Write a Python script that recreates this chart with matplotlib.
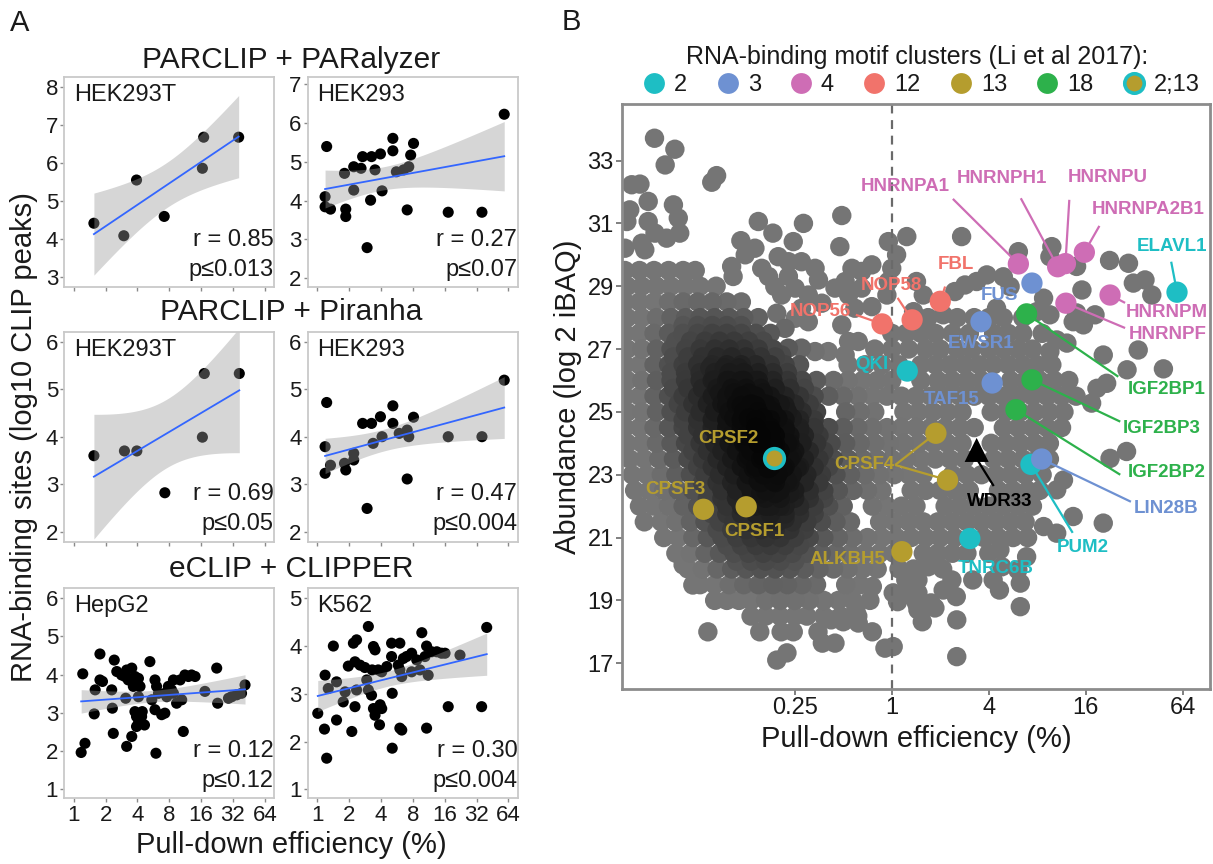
import numpy as np
import matplotlib
matplotlib.use("Agg")
import matplotlib.pyplot as plt
from matplotlib.lines import Line2D

plt.rcParams["font.family"] = ["Liberation Sans", "DejaVu Sans"]
TXT = "#1a1a1a"

# ---------------- Panel A data (x = log2 pull-down efficiency %, y = log10 CLIP peaks) ----
pa_hek293t_x = [0.63, 1.57, 1.97, 2.84, 4.04, 4.08, 5.18]
pa_hek293t_y = [4.41, 4.08, 5.55, 4.59, 5.86, 6.68, 6.68]
pa_hek293_x = [5.87, 0.29, 0.24, 0.24, 0.41, 0.89, 0.89, 0.85, 1.14, 1.14, 1.42, 1.70, 1.81, 1.98,
               1.67, 2.03, 2.37, 2.37, 2.48, 2.71, 2.87, 2.93, 3.02, 2.82, 1.56, 4.11, 5.17, 1.37]
pa_hek293_y = [6.22, 5.39, 4.10, 3.84, 3.78, 3.78, 3.59, 4.70, 4.27, 4.87, 5.13, 5.13, 4.79, 5.20,
               4.01, 4.25, 5.60, 5.28, 4.74, 4.79, 4.87, 5.17, 5.47, 3.76, 2.79, 3.70, 3.70, 4.83]
pp_hek293t_x = [0.63, 1.59, 1.98, 2.86, 4.04, 4.10, 5.20]
pp_hek293t_y = [3.60, 3.70, 3.70, 2.82, 3.99, 5.33, 5.33]
pp_hek293_x = [5.87, 0.29, 0.24, 0.24, 0.41, 0.85, 0.89, 1.14, 1.14, 1.42, 1.70, 1.98, 1.75, 2.03,
               2.37, 2.37, 2.57, 2.82, 2.87, 3.02, 2.82, 1.56, 4.11, 5.17]
pp_hek293_y = [5.19, 4.72, 3.79, 3.23, 3.40, 3.44, 3.30, 3.65, 3.51, 4.28, 4.28, 4.42, 3.86, 4.00,
               4.65, 4.28, 4.07, 4.14, 4.00, 4.41, 3.11, 2.49, 4.00, 4.00]
ec_hepg2_x = [0.28, 0.23, 0.35, 0.64, 0.67, 0.82, 0.90, 0.82, 1.19, 1.24, 1.27, 1.21, 1.35, 1.50,
              1.61, 1.66, 1.71, 1.82, 1.92, 1.87, 2.03, 2.08, 1.63, 1.66, 1.82, 1.92, 1.97, 2.03,
              1.97, 2.13, 2.15, 2.22, 2.39, 2.45, 2.55, 2.60, 2.55, 2.58, 2.66, 2.76, 2.86, 2.92,
              2.97, 3.07, 3.13, 3.23, 3.34, 3.44, 3.49, 3.60, 3.70, 3.81, 4.12, 4.49, 4.52, 4.86,
              4.96, 5.12, 5.27, 5.38, 3.39, 3.13, 2.86, 2.03]
ec_hepg2_y = [4.02, 1.96, 2.20, 2.97, 3.60, 3.86, 3.82, 4.54, 3.60, 2.46, 4.38, 3.12, 4.08, 3.99,
              3.95, 4.12, 3.86, 4.17, 3.95, 3.69, 3.90, 3.69, 3.38, 2.12, 2.38, 3.03, 2.90, 2.73,
              2.64, 2.90, 3.03, 2.68, 4.34, 3.34, 3.86, 3.69, 3.08, 1.94, 3.51, 2.95, 2.99, 3.42,
              3.69, 3.60, 3.86, 3.25, 3.86, 2.51, 3.99, 3.95, 3.99, 3.95, 3.56, 4.17, 3.25, 3.38,
              3.42, 3.47, 3.51, 3.73, 3.34, 3.51, 3.51, 3.42]
ec_k562_x = [5.32, 1.60, 0.50, 0.24, 0.01, 0.22, 0.29, 0.60, 0.34, 0.60, 0.87, 0.81, 1.08, 1.18,
             0.97, 1.18, 1.13, 1.23, 1.34, 1.49, 1.55, 1.60, 1.70, 1.76, 1.81, 1.72, 1.91, 2.02,
             1.76, 1.81, 1.97, 2.02, 1.95, 2.33, 2.59, 2.33, 2.35, 2.35, 2.59, 2.65, 2.54, 2.70,
             2.80, 2.96, 3.12, 3.28, 3.43, 3.43, 3.38, 3.59, 3.75, 3.90, 4.01, 4.11, 4.48, 5.16,
             2.59, 2.96, 3.22, 3.48, 1.23, 2.18, 2.65]
ec_k562_y = [4.39, 4.41, 4.00, 3.39, 2.59, 2.26, 1.65, 2.45, 3.11, 3.25, 3.04, 2.83, 2.21, 2.73,
             3.58, 3.67, 4.06, 4.13, 3.60, 3.55, 3.29, 3.08, 2.97, 3.99, 3.92, 3.50, 3.50, 3.46,
             2.69, 2.55, 2.77, 2.69, 2.35, 4.06, 4.06, 3.78, 3.01, 1.86, 2.28, 2.24, 3.60, 3.74,
             3.78, 3.85, 3.71, 4.28, 4.00, 2.28, 3.78, 3.88, 3.88, 3.85, 3.85, 2.73, 3.81, 2.73,
             3.50, 3.46, 3.50, 3.39, 3.08, 3.57, 3.36]

# ---------------- Panel B data (x = log2 pull-down efficiency %, y = log2 iBAQ) ---------
cloud_row_y = [29.5, 29.0, 28.5, 28.0, 27.5, 27.0, 26.5, 26.0, 25.5, 25.0, 24.5, 24.0, 23.5,
               23.0, 22.5, 22.0, 21.5, 21.0, 20.5, 20.0, 19.5, 19.0, 18.5]
cloud_row_x = [
    [-5.5, -5.2, -4.9, -4.6, -4.3, -4.05],
    [-5.45, -5.15, -4.85, -4.55, -4.25, -3.95, -3.62],
    [-5.5, -5.2, -4.9, -4.6, -4.3, -4.0, -3.7, -3.4, -3.1],
    [-5.45, -5.15, -4.85, -4.55, -4.25, -3.95, -3.65, -3.35, -3.05, -2.75, 0.75, 1.35, 1.7, 2.0, 2.3, 2.7],
    [-5.5, -5.2, -4.9, -4.6, -4.3, -4.0, -3.7, -3.4, -3.1, -2.8, -2.5, 0.0, 0.3, 0.6, 0.9, 1.25, 1.6,
     2.1, 2.4, 2.7, 3.1],
    [-5.45, -5.15, -4.85, -4.55, -4.25, -3.95, -3.65, -3.35, -3.05, -2.75, -2.45, -0.35, 0.0, 0.35,
     0.7, 1.0, 1.35, 1.65, 2.0, 2.3, 2.6, 2.9],
    [-5.5, -5.2, -4.9, -4.6, -4.3, -4.0, -3.7, -3.4, -3.1, -2.8, -2.5, -2.2, -1.9, -0.9, -0.55, -0.2,
     0.15, 0.6, 0.9, 1.2, 1.5, 1.8, 2.1, 2.4, 2.7, 3.0, 3.3],
    [-5.45, -5.15, -4.85, -4.55, -4.25, -3.95, -3.65, -3.35, -3.05, -2.75, -2.45, -2.15, -1.85, -1.55,
     -1.2, -0.9, -0.6, -0.3, 0.0, 0.6, 0.95, 1.25, 1.55, 1.85, 2.45, 2.75, 3.05, 3.35, 3.65],
    [-5.5, -5.2, -4.9, -4.6, -4.3, -4.0, -3.7, -3.4, -3.1, -2.8, -2.5, -2.2, -1.9, -1.6, -1.3, -1.0,
     -0.7, -0.4, -0.1, 0.2, 0.5, 0.8, 1.1, 1.4, 1.7, 2.0, 2.3, 2.6, 2.9, 3.2, 3.5, 3.8],
    [-5.45, -5.15, -4.85, -4.55, -4.25, -3.95, -3.65, -3.35, -3.05, -2.75, -2.45, -2.15, -1.85, -1.55,
     -0.95, -0.65, -0.35, 0.25, 0.55, 0.85, 1.15, 1.45, 2.05, 2.35, 2.65, 2.95, 3.25, 3.55],
    [-5.5, -5.2, -4.9, -4.6, -4.3, -4.0, -3.7, -3.4, -3.1, -2.8, -2.5, -2.2, -1.9, -1.6, -1.3, -1.0,
     -0.7, -0.4, -0.1, 0.2, 0.5, 0.8, 1.1, 1.4, 1.7, 2.3, 2.6, 2.9, 3.2, 3.5],
    [-5.45, -5.15, -4.85, -4.55, -4.25, -3.95, -3.65, -3.35, -3.05, -2.75, -2.45, -2.15, -1.85, -1.55,
     -1.25, -0.95, -0.65, -0.35, -0.05, 0.25, 0.55, 0.85, 1.15, 1.45, 2.05, 2.35, 2.65, 2.95, 3.25],
    [-5.4, -5.1, -4.8, -4.5, -4.2, -3.9, -3.6, -3.3, -3.0, -2.7, -2.4, -2.1, -1.8, -1.5, -1.2, -0.9,
     -0.6, -0.3, 0.0, 0.3, 0.6, 0.9, 1.2, 1.5, 2.1, 2.4, 2.7, 3.0, 3.25],
    [-5.35, -5.05, -4.75, -4.45, -4.15, -3.85, -3.55, -3.25, -2.95, -2.65, -2.35, -2.05, -1.75, -1.45,
     -1.15, -0.85, -0.55, -0.25, 0.05, 0.35, 0.65, 1.25, 1.55, 1.85, 2.15, 2.45, 2.75, 3.1],
    [-5.3, -5.0, -4.7, -4.4, -4.1, -3.8, -3.5, -3.2, -2.9, -2.6, -2.3, -2.0, -1.7, -1.4, -1.1, -0.8,
     -0.5, -0.2, 0.4, 0.7, 1.0, 1.3, 1.6, 2.2, 2.5, 2.8, 3.05],
    [-5.2, -4.9, -4.6, -4.3, -4.0, -3.7, -3.4, -3.1, -2.8, -2.5, -2.2, -1.9, -1.6, -1.3, -1.0, -0.4,
     -0.1, 0.2, 0.5, 1.1, 1.4, 1.7, 2.0, 2.3, 2.6, 2.9],
    [-5.1, -4.75, -4.45, -4.15, -3.85, -3.55, -3.25, -2.95, -2.65, -2.35, -2.05, -1.75, -1.45, -1.15,
     -0.85, -0.25, 0.05, 0.35, 0.65, 0.95, 1.25, 1.55, 1.85, 2.15, 2.45, 2.75],
    [-4.7, -4.4, -4.1, -3.8, -3.5, -3.2, -2.9, -2.6, -2.3, -2.0, -1.7, -1.4, -1.1, -0.8, -0.5, -0.2,
     0.1, 0.4, 0.7, 1.0, 1.3, 1.9, 2.2, 2.5, 2.8],
    [-4.45, -4.15, -3.85, -3.55, -3.25, -2.95, -2.65, -2.35, -2.05, -1.75, -1.45, -1.15, -0.85, -0.55,
     -0.25, 0.05, 0.65, 0.95, 1.25, 1.55, 2.0],
    [-4.2, -3.9, -3.6, -3.3, -3.0, -2.7, -2.4, -2.1, -1.8, -1.5, -1.2, -0.9, -0.6, -0.3, 0.15, 1.05],
    [-3.95, -3.65, -3.35, -3.05, -2.75, -2.45, -2.15, -1.85, -1.55, -0.95, -0.65],
    [-3.65, -3.4, -3.15, -2.9, -2.6, -2.3, -2.0, -1.7, -1.4, -1.1, -0.8, -0.45],
    [-2.9, -2.6, -2.3, -2.0, -1.75, -1.4, -1.05, -0.7],
]
cloud_sparse_x = [
    -4.89, -4.47, -4.67, -3.71, -3.61, -5.36, -5.19, -5.02, -5.40, -5.46, -5.02, -4.50, -4.40, -4.37,
    -4.64, -4.88, -5.15, -5.09, -5.50, -2.75, -2.45, -1.82, -1.03, -1.07, -3.11, -2.82, -3.02, -2.03,
    -0.07, 0.31, 0.10, 1.44,
    -3.30, -2.68, -2.34, -2.13, -1.86, -1.58, -0.82, -0.62, -0.41, 0.00, -3.27, -2.54, -2.13, -1.51,
    -0.96, -0.07, -2.41, -1.99, -1.17, -0.89, -0.62, -2.27, -1.72, -1.44, -1.86, -0.76, -0.41, -0.10,
    -1.99, -1.72, -2.37, -2.20, -1.03, -0.89, -0.69, -0.96, -1.31, -1.58, -1.86, -2.13, -2.27,
    2.61, 3.30, 3.26, 3.81, 4.49, 4.88, 4.98, 5.22, 5.36, 3.92, 4.19, 3.95, 3.74, 3.81, 3.40, 3.61,
    4.36, 5.08, 5.60, 4.85, 4.43, 4.23, 3.26, 4.12, 4.50, 4.84, 3.54, 3.40, 3.74, 4.36, 3.13, 3.40,
    2.78, 2.23, 2.65, 2.60, 2.65, 1.34, 1.34, 0.72, 0.51, 1.06, 1.24, 1.67, 2.22, 2.27, 0.45, 0.75,
    0.54, 0.29, 0.03, 0.29, 0.54, 0.12, 0.54, 0.63, 0.81, 0.89, 1.33, 2.09,
    0.51, 0.65, 1.30, 1.51, 1.75, 1.96, 2.30, 2.44, 0.45, 1.06, 2.16, 2.99, 3.26, 3.13,
    -4.30, -4.00, -4.10, -3.79, -2.72, -2.28, -2.37, -2.16, -2.03, -1.52, -1.43, -1.17, -1.25, -1.00,
    -0.69, -0.74, -0.40, -0.40, -0.14, 0.03]
cloud_sparse_y = [
    33.71, 33.36, 32.86, 32.31, 32.52, 32.23, 32.25, 31.70, 31.43, 31.06, 31.06, 31.59, 31.17, 30.69,
    30.53, 30.69, 30.37, 30.16, 30.21, 31.06, 30.69, 31.00, 31.25, 30.26, 30.45, 30.21, 30.00, 30.42,
    30.42, 30.58, 30.00, 30.58,
    29.63, 29.57, 29.94, 29.78, 29.78, 29.57, 29.57, 29.47, 29.68, 29.57, 29.31, 29.31, 29.31, 29.20,
    29.15, 29.15, 28.99, 28.94, 28.94, 28.72, 28.94, 28.72, 28.72, 28.46, 28.30, 28.30, 28.35, 28.72,
    27.98, 27.87, 28.14, 27.66, 27.77, 27.24, 27.24, 26.81, 26.92, 26.92, 27.03, 27.03, 26.81,
    30.10, 30.26, 29.94, 29.63, 29.82, 29.73, 29.10, 29.20, 28.72, 28.88, 28.09, 27.77, 27.87, 28.15,
    27.29, 27.19, 26.81, 26.97, 26.37, 26.34, 25.91, 25.75, 26.92, 25.28, 23.52, 23.74, 22.83, 22.52,
    21.67, 21.46, 21.35, 21.14, 20.39, 20.61, 19.55, 19.97, 18.80, 18.38, 17.21, 18.80, 18.91, 19.33,
    19.65, 19.65, 19.33, 20.07, 20.00, 20.07, 19.65, 19.65, 19.24, 19.24, 19.24, 18.96, 18.70, 18.32,
    18.92, 18.76, 19.12, 19.65,
    29.15, 28.72, 28.83, 29.04, 29.15, 29.36, 29.30, 28.99, 28.19, 28.09, 28.30, 28.19, 28.09, 28.62,
    20.13, 19.80, 19.49, 18.00, 18.00, 18.00, 17.10, 17.33, 18.00, 18.00, 17.64, 17.64, 18.38, 18.32,
    18.28, 18.70, 18.00, 19.44, 17.48, 17.53]
core_row_y = [27.75, 27.25, 26.75, 26.25, 25.75, 25.25, 24.75, 24.25, 23.75, 23.25, 22.75, 22.25,
              21.75, 21.25, 20.75, 20.25]
core_row_x = [
    [-4.3, -4.0, -3.7, -3.4, -3.1],
    [-4.45, -4.15, -3.85, -3.55, -3.25, -2.95, -2.65],
    [-4.5, -4.2, -3.9, -3.6, -3.3, -3.0, -2.7, -2.4],
    [-4.55, -4.25, -3.95, -3.65, -3.35, -3.05, -2.75, -2.45, -2.15],
    [-4.5, -4.2, -3.9, -3.6, -3.3, -3.0, -2.7, -2.4, -2.1, -1.8],
    [-4.4, -4.1, -3.8, -3.5, -3.2, -2.9, -2.6, -2.3, -2.0, -1.7],
    [-4.3, -4.0, -3.7, -3.4, -3.1, -2.8, -2.5, -2.2, -1.9, -1.6],
    [-4.2, -3.9, -3.6, -3.3, -3.0, -2.7, -2.4, -2.1, -1.8, -1.5],
    [-4.1, -3.8, -3.5, -3.2, -2.9, -2.6, -2.3, -2.0, -1.7, -1.4],
    [-4.0, -3.7, -3.4, -3.1, -2.8, -2.5, -2.2, -1.9, -1.6, -1.3],
    [-3.9, -3.6, -3.3, -3.0, -2.7, -2.4, -2.1, -1.8, -1.5],
    [-3.8, -3.5, -3.2, -2.9, -2.6, -2.3, -2.0, -1.7, -1.4],
    [-3.7, -3.4, -3.1, -2.8, -2.5, -2.2, -1.9, -1.6],
    [-3.6, -3.3, -3.0, -2.7, -2.4, -2.1, -1.8],
    [-3.4, -3.1, -2.8, -2.5, -2.2, -1.9],
    [-3.2, -2.9, -2.6, -2.3, -2.0],
]
inner_row_y = [26.4, 26.0, 25.6, 25.2, 24.8, 24.4, 24.0, 23.6, 23.2, 22.8, 22.4, 22.0, 21.6]
inner_row_x = [
    [-3.75, -3.45, -3.15],
    [-3.7, -3.4, -3.1, -2.8],
    [-3.55, -3.25, -2.95, -2.65],
    [-3.4, -3.1, -2.8, -2.5, -2.2],
    [-3.25, -2.95, -2.65, -2.35, -2.05],
    [-3.1, -2.8, -2.5, -2.2, -1.9],
    [-3.0, -2.7, -2.4, -2.1],
    [-2.95, -2.65, -2.35, -2.05],
    [-2.85, -2.55, -2.25, -1.95],
    [-2.75, -2.45, -2.15],
    [-2.7, -2.4, -2.1],
    [-2.6, -2.3],
    [-2.5, -2.2],
]

hl_names = ["HNRNPA1", "HNRNPH1", "HNRNPU", "HNRNPA2B1", "HNRNPM", "HNRNPF", "ELAVL1", "QKI",
            "PUM2", "TNRC6B", "FUS", "EWSR1", "TAF15", "LIN28B", "FBL", "NOP58", "NOP56",
            "IGF2BP1", "IGF2BP3", "IGF2BP2", "CPSF1", "CPSF3", "CPSF4", "CPSF4", "ALKBH5", "CPSF2"]
hl_x = [2.61, 3.42, 3.58, 3.97, 4.50, 3.59, 5.88, 0.32, 2.87, 1.61, 2.89, 1.84, 2.07, 3.09, 1.00,
        0.42, -0.20, 2.78, 2.89, 2.56, -3.00, -3.88, 0.91, 1.15, 0.21, -2.43]
hl_y = [29.71, 29.62, 29.72, 30.08, 28.72, 28.46, 28.81, 26.30, 23.33, 20.97, 29.10, 27.87, 25.92,
        23.50, 28.52, 27.93, 27.80, 28.12, 26.02, 25.07, 21.98, 21.90, 24.32, 22.83, 20.55, 23.53]
hl_cluster = ["4", "4", "4", "4", "4", "4", "2", "2", "2", "2", "3", "3", "3", "3", "12", "12", "12",
              "18", "18", "18", "13", "13", "13", "13", "13", "2;13"]
wdr33_x = [1.75]
wdr33_y = [23.79]

cluster_labels = ["2", "3", "4", "12", "13", "18", "2;13"]
cluster_colors = {"2": "#1EBEC4", "3": "#6E91D2", "4": "#CE6DB5", "12": "#F1736B",
                  "13": "#B59D2E", "18": "#2DB14B"}

# ---------------------------------------------------------------------------------
W, H = 1213, 864
fig = plt.figure(figsize=(W / 100, H / 100), dpi=100)


def px_axes(l, t, r, b):
    return fig.add_axes([l / W, 1 - b / H, (r - l) / W, (b - t) / H])


def t975(df):
    z = 1.959964
    g1 = (z ** 3 + z) / 4
    g2 = (5 * z ** 5 + 16 * z ** 3 + 3 * z) / 96
    g3 = (3 * z ** 7 + 19 * z ** 5 + 17 * z ** 3 - 15 * z) / 384
    g4 = (79 * z ** 9 + 776 * z ** 7 + 1482 * z ** 5 - 1920 * z ** 3 - 945 * z) / 92160
    return z + g1 / df + g2 / df ** 2 + g3 / df ** 3 + g4 / df ** 4


def panel_a(rect, x, y, ylim, yticks, cell, rtxt, ptxt, bottom):
    ax = px_axes(*rect)
    x = np.asarray(x, float)
    y = np.asarray(y, float)
    ax.scatter(x, y, s=64, color="black", edgecolors="none", zorder=2)
    n = len(x)
    b1, b0 = np.polyfit(x, y, 1)
    xs = np.linspace(x.min(), x.max(), 120)
    fit = b0 + b1 * xs
    s = np.sqrt(np.sum((y - (b0 + b1 * x)) ** 2) / (n - 2))
    sxx = np.sum((x - x.mean()) ** 2)
    se = s * np.sqrt(1.0 / n + (xs - x.mean()) ** 2 / sxx)
    tq = t975(n - 2)
    ax.fill_between(xs, fit - tq * se, fit + tq * se, color="#999999", alpha=0.4, lw=0, zorder=3)
    ax.plot(xs, fit, color="#3366FF", lw=1.3, zorder=4)
    ax.set_xlim(-0.3, 6.3)
    ax.set_ylim(*ylim)
    ax.set_yticks(yticks)
    ax.set_yticklabels([str(v) for v in yticks])
    ax.set_xticks(range(7))
    if bottom:
        ax.set_xticklabels([str(2 ** k) for k in range(7)])
    else:
        ax.tick_params(axis="x", length=0, labelbottom=False)
    ax.tick_params(axis="both", direction="out", length=3, width=1, color="#8a8a8a",
                   labelsize=16, labelcolor=TXT, pad=1.5)
    for sp in ax.spines.values():
        sp.set_color("#c9c9c9")
        sp.set_linewidth(1.3)
        sp.set_zorder(10)
    ax.text(0.045, 0.915, cell, transform=ax.transAxes, fontsize=17, color=TXT, va="center", ha="left")
    ax.text(0.997, 0.225, rtxt, transform=ax.transAxes, fontsize=17, color=TXT, va="center", ha="right")
    ax.text(0.997, 0.083, ptxt, transform=ax.transAxes, fontsize=17, color=TXT, va="center", ha="right")
    return ax


LC, RC = (64.3, 274.3), (307.9, 517.9)
R1, R2, R3 = (77.3, 287.3), (331.7, 541.7), (588.3, 798.3)
panel_a((LC[0], R1[0], LC[1], R1[1]), pa_hek293t_x, pa_hek293t_y, (2.72, 8.26), [3, 4, 5, 6, 7, 8],
        "HEK293T", "r = 0.85", "p\u22640.013", False)
panel_a((RC[0], R1[0], RC[1], R1[1]), pa_hek293_x, pa_hek293_y, (1.77, 7.17), [2, 3, 4, 5, 6, 7],
        "HEK293", "r = 0.27", "p\u22640.07", False)
panel_a((LC[0], R2[0], LC[1], R2[1]), pp_hek293t_x, pp_hek293t_y, (1.79, 6.21), [2, 3, 4, 5, 6],
        "HEK293T", "r = 0.69", "p\u22640.05", False)
panel_a((RC[0], R2[0], RC[1], R2[1]), pp_hek293_x, pp_hek293_y, (1.79, 6.21), [2, 3, 4, 5, 6],
        "HEK293", "r = 0.47", "p\u22640.004", False)
panel_a((LC[0], R3[0], LC[1], R3[1]), ec_hepg2_x, ec_hepg2_y, (0.76, 6.26), [1, 2, 3, 4, 5, 6],
        "HepG2", "r = 0.12", "p\u22640.12", True)
panel_a((RC[0], R3[0], RC[1], R3[1]), ec_k562_x, ec_k562_y, (0.81, 5.21), [1, 2, 3, 4, 5],
        "K562", "r = 0.30", "p\u22640.004", True)

fig.text(291 / W, 1 - 68.5 / H, "PARCLIP + PARalyzer", fontsize=21.5, color=TXT, ha="center", va="baseline")
fig.text(291 / W, 1 - 320 / H, "PARCLIP + Piranha", fontsize=21.5, color=TXT, ha="center", va="baseline")
fig.text(291 / W, 1 - 577 / H, "eCLIP + CLIPPER", fontsize=21.5, color=TXT, ha="center", va="baseline")
fig.text(291 / W, 1 - 853 / H, "Pull-down efficiency (%)", fontsize=21, color=TXT, ha="center", va="baseline")
fig.text(24 / W, 1 - 437 / H, "RNA-binding sites (log10 CLIP peaks)", fontsize=21, color=TXT,
         ha="center", va="center", rotation=90)
fig.text(20 / W, 1 - 23 / H, "A", fontsize=21, color=TXT, ha="center", va="center")
fig.text(571 / W, 1 - 22 / H, "B", fontsize=21, color=TXT, ha="center", va="center")

# ---------------- Panel B ----------------
axB = px_axes(622, 104, 1210, 689)
cx, cy = [], []
for yy, xs in zip(cloud_row_y, cloud_row_x):
    cx += xs
    cy += [yy] * len(xs)
cx += cloud_sparse_x
cy += cloud_sparse_y
for yy, xs in zip(core_row_y, core_row_x):
    cx += xs
    cy += [yy] * len(xs)
for yy, xs in zip(inner_row_y, inner_row_x):
    cx += xs
    cy += [yy] * len(xs)
cx = np.array(cx)
cy = np.array(cy)
ddx = (cx[:, None] - cx[None, :]) / 0.62
ddy = (cy[:, None] - cy[None, :]) / 1.1
dens = np.exp(-0.5 * (ddx ** 2 + ddy ** 2)).sum(axis=1)
base = np.percentile(dens, 45)
frac = np.clip((dens - base) / (dens.max() - base), 0, 1)
g = 0.44 * (1 - frac) ** 1.15 + 0.02
order = np.argsort(dens)
cols = np.stack([g, g, g], axis=1)
axB.scatter(cx[order], cy[order], s=195, c=cols[order], edgecolors="none", zorder=2)

axB.axvline(0, color="#6a6a6a", ls=(0, (4, 3)), lw=1.6, zorder=3)

# label layout: text centre and segment start (data units)
seg_info = [
    ("HNRNPA1", 0.27, 32.16, [(1.26, 31.78)]),
    ("HNRNPH1", 2.27, 32.44, [(2.66, 31.80)]),
    ("HNRNPU", 4.46, 32.45, [(3.66, 31.75)]),
    ("HNRNPA2B1", 5.28, 31.43, [(4.28, 30.92)]),
    ("ELAVL1", 5.77, 30.26, [(5.76, 29.78)]),
    ("HNRNPM", 5.67, 28.15, [(4.81, 28.47)]),
    ("HNRNPF", 5.68, 27.45, [(4.81, 27.67)]),
    ("FUS", 2.23, 28.72, []),
    ("EWSR1", 1.84, 27.19, []),
    ("FBL", 1.32, 29.68, [(1.10, 28.99)]),
    ("NOP58", -0.01, 29.01, [(0.12, 28.63)]),
    ("NOP56", -1.47, 28.19, [(-0.74, 28.09)]),
    ("QKI", -0.40, 26.50, []),
    ("TAF15", 1.24, 25.38, []),
    ("IGF2BP1", 5.66, 25.70, [(4.67, 26.12)]),
    ("IGF2BP3", 5.57, 24.48, [(4.71, 24.69)]),
    ("IGF2BP2", 5.66, 23.06, [(4.71, 23.00)]),
    ("LIN28B", 5.66, 21.94, [(4.93, 22.14)]),
    ("PUM2", 3.94, 20.67, [(3.73, 21.15)]),
    ("TNRC6B", 2.14, 20.03, []),
    ("ALKBH5", -0.91, 20.29, []),
    ("CPSF4", -0.57, 23.31, [(0.07, 23.31), (0.07, 23.31)]),
    ("CPSF2", -3.36, 24.16, []),
    ("CPSF3", -4.45, 22.52, []),
    ("CPSF1", -2.84, 21.19, []),
]


def ccolor(c):
    return cluster_colors["13"] if c == "2;13" else cluster_colors[c]


for name, tx, ty, segs in seg_info:
    idx = [i for i, nm in enumerate(hl_names) if nm == name]
    col = ccolor(hl_cluster[idx[0]])
    for (sx, sy), i in zip(segs, idx):
        axB.plot([sx, hl_x[i]], [sy, hl_y[i]], color=col, lw=1.6, zorder=4, solid_capstyle="butt")
    axB.text(tx, ty, name, color=col, fontsize=13.5, fontweight="bold", ha="center", va="center",
             zorder=7, clip_on=False)

for i in range(len(hl_names)):
    c = hl_cluster[i]
    if c == "2;13":
        axB.scatter([hl_x[i]], [hl_y[i]], s=200, color=cluster_colors["13"],
                    edgecolors=cluster_colors["2"], linewidths=2.6, zorder=6)
    else:
        axB.scatter([hl_x[i]], [hl_y[i]], s=235, color=cluster_colors[c], edgecolors="none", zorder=6)

# WDR33
axB.plot([2.09, wdr33_x[0] + 0.04], [22.67, wdr33_y[0] - 0.38], color="black", lw=1.6, zorder=4)
axB.scatter(wdr33_x, wdr33_y, marker="^", s=300, color="black", edgecolors="none", zorder=6)
axB.text(2.22, 22.14, "WDR33", color="black", fontsize=13.5, fontweight="bold", ha="center",
         va="center", zorder=7)

axB.set_xlim(-5.56, 6.56)
axB.set_ylim(16.18, 34.8)
axB.set_xticks([-2, 0, 2, 4, 6])
axB.set_xticklabels(["0.25", "1", "4", "16", "64"])
axB.set_yticks(range(17, 34, 2))
axB.tick_params(axis="both", direction="out", length=4, width=1.2, color="#6a6a6a",
                labelsize=17, labelcolor=TXT, pad=2)
for sp in axB.spines.values():
    sp.set_color("#8c8c8c")
    sp.set_linewidth(2.0)
    sp.set_zorder(10)
axB.set_xlabel("Pull-down efficiency (%)", fontsize=21, color=TXT, labelpad=4)
axB.set_ylabel("Abundance (log 2 iBAQ)", fontsize=21, color=TXT, labelpad=4)

# legend
handles = []
for lab in cluster_labels:
    if lab == "2;13":
        h = Line2D([], [], ls="none", marker="o", markersize=14, markerfacecolor=cluster_colors["13"],
                   markeredgecolor=cluster_colors["2"], markeredgewidth=2.6)
    else:
        h = Line2D([], [], ls="none", marker="o", markersize=15, markerfacecolor=cluster_colors[lab],
                   markeredgecolor="none")
    handles.append(h)
fig.legend(handles, cluster_labels, ncol=7, loc="center", bbox_to_anchor=(921 / W, 1 - 85 / H),
           frameon=False, fontsize=17, handlelength=1.0, handletextpad=0.35, columnspacing=1.2,
           borderaxespad=0, borderpad=0, labelcolor=TXT)
fig.text(917 / W, 1 - 57 / H, "RNA-binding motif clusters (Li et al 2017):", fontsize=18,
         color=TXT, ha="center", va="center")

fig.savefig("out.png", dpi=100)
